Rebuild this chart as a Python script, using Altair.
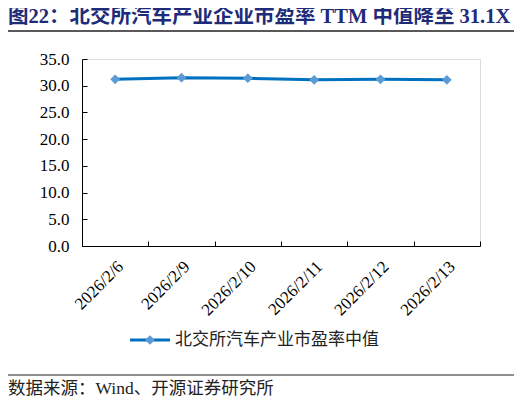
import pandas as pd
import altair as alt

# data
dates = ["2026/2/6", "2026/2/9", "2026/2/10", "2026/2/11", "2026/2/12", "2026/2/13"]
pe_median = [31.2, 31.5, 31.4, 31.1, 31.2, 31.1]
y_ticks = [0, 5, 10, 15, 20, 25, 30, 35]

series_name = "北交所汽车产业市盈率中值"
title_text = "图22：北交所汽车产业企业市盈率 TTM 中值降至 31.1X"
source_text = "数据来源：Wind、开源证券研究所"

df = pd.DataFrame({"date": dates, "pe": pe_median})

W, H = 398, 187
serif = "Liberation Serif, Noto Sans CJK SC"
line_color = "#0070C0"
point_color = "#5B9BD5"

x_scale = alt.Scale(type="band", domain=dates, paddingInner=0, paddingOuter=0)
y_scale = alt.Scale(domain=[0, 35], nice=False)

base = alt.Chart(df)

# line with the visible axes (labels + domain lines)
line = base.mark_line(color=line_color, strokeWidth=3).encode(
    x=alt.X("date:N", scale=x_scale, sort=dates,
            axis=alt.Axis(title=None, labelAngle=-45, ticks=False, tickSize=0,
                          labelPadding=12, labelFont=serif, labelFontSize=17,
                          labelColor="#000", domainColor="#000", grid=False)),
    y=alt.Y("pe:Q", scale=y_scale,
            axis=alt.Axis(title=None, values=y_ticks, format=".1f", ticks=False,
                          tickSize=0, labelPadding=13, labelFont=serif,
                          labelFontSize=17, labelColor="#000",
                          domainColor="#000", grid=False)),
)

# diamond markers; their axes only draw the inward ticks
points = base.mark_point(shape="diamond", filled=True, size=95, opacity=1,
                         color=point_color).encode(
    x=alt.X("date:N", scale=x_scale, sort=dates,
            axis=alt.Axis(title=None, orient="top", offset=-H, labels=False,
                          domain=False, tickBand="extent", tickSize=5,
                          tickColor="#000", grid=False)),
    y=alt.Y("pe:Q", scale=y_scale,
            axis=alt.Axis(title=None, orient="right", offset=-W, labels=False,
                          domain=False, values=y_ticks, tickSize=5,
                          tickColor="#000", grid=False)),
)

# header, footer and legend decorations
title = alt.Chart().mark_text(align="left", baseline="middle", font=serif,
                              fontSize=20.5, fontWeight="bold",
                              color="#1E2B78").encode(
    x=alt.value(-74), y=alt.value(-42), text=alt.value(title_text))
top_rule = alt.Chart().mark_rule(color="#222", strokeWidth=1.5).encode(
    x=alt.value(-77), x2=alt.value(434), y=alt.value(-28))
bottom_rule = alt.Chart().mark_rule(color="#222", strokeWidth=1.2).encode(
    x=alt.value(-77), x2=alt.value(434), y=alt.value(316))
source = alt.Chart().mark_text(align="left", baseline="middle", font=serif,
                               fontSize=17.5, color="#222").encode(
    x=alt.value(-74), y=alt.value(330), text=alt.value(source_text))

legend_line = alt.Chart().mark_rule(color=line_color, strokeWidth=3).encode(
    x=alt.value(48), x2=alt.value(88), y=alt.value(281))
legend_point = alt.Chart().mark_point(shape="diamond", filled=True, size=95,
                                      opacity=1, color=point_color).encode(
    x=alt.value(68), y=alt.value(281))
legend_text = alt.Chart().mark_text(align="left", baseline="middle",
                                    font="Noto Sans CJK SC", fontSize=17,
                                    color="#222").encode(
    x=alt.value(93), y=alt.value(281), text=alt.value(series_name))

chart = alt.layer(
    line, points, title, top_rule, bottom_rule, source,
    legend_line, legend_point, legend_text
).resolve_axis(
    x="independent", y="independent"
).properties(
    width=W, height=H,
    autosize=alt.AutoSizeParams(type="none"),
    padding={"left": 74, "top": 51, "right": 34, "bottom": 151},
).configure_view(stroke=None).configure(background="white")

chart.save("out.html", embed_options={"renderer": "svg", "actions": False})
